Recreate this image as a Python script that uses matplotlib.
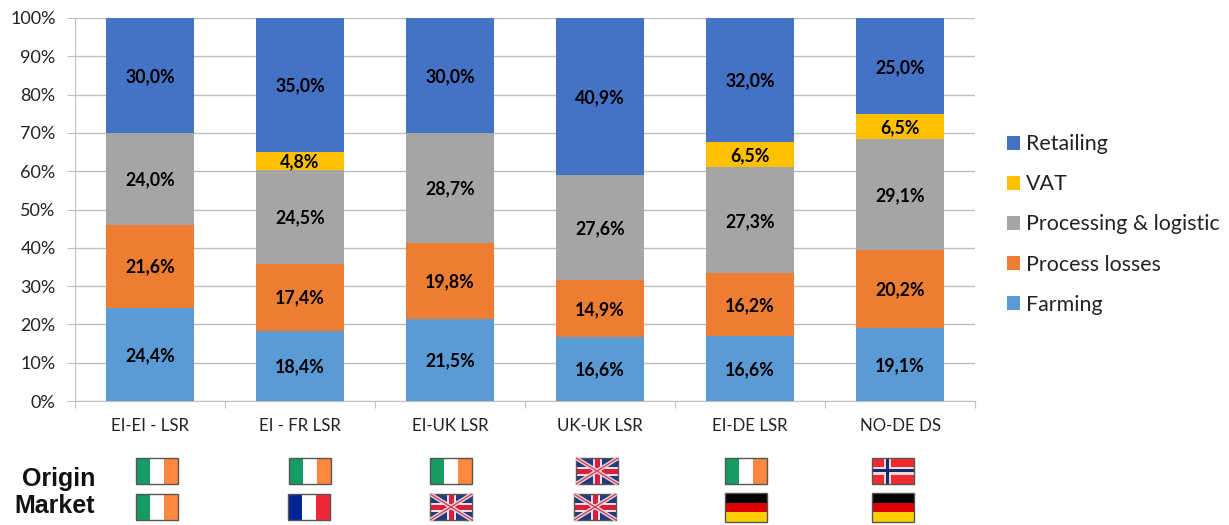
import matplotlib
matplotlib.use("Agg")
import matplotlib.pyplot as plt
from matplotlib.patches import Rectangle
import numpy as np

plt.rcParams['font.family'] = ['Lato', 'DejaVu Sans']

routes = ["EI-EI - LSR", "EI - FR LSR", "EI-UK LSR", "UK-UK LSR", "EI-DE LSR", "NO-DE DS"]
# bar heights as drawn (the EI-DE bar is drawn a bit off its printed numbers)
farming = [24.4, 18.4, 21.5, 16.6, 16.9, 19.1]
process_losses = [21.6, 17.4, 19.8, 14.9, 16.4, 20.2]
processing = [24.0, 24.5, 28.7, 27.6, 27.7, 29.1]
vat = [0, 4.8, 0, 0, 6.5, 6.5]
retailing = [30.0, 35.0, 30.0, 40.9, 32.5, 25.0]
# printed labels
farming_lab = ["24,4%", "18,4%", "21,5%", "16,6%", "16,6%", "19,1%"]
losses_lab = ["21,6%", "17,4%", "19,8%", "14,9%", "16,2%", "20,2%"]
processing_lab = ["24,0%", "24,5%", "28,7%", "27,6%", "27,3%", "29,1%"]
vat_lab = ["", "4,8%", "", "", "6,5%", "6,5%"]
retailing_lab = ["30,0%", "35,0%", "30,0%", "40,9%", "32,0%", "25,0%"]
origin = ["IE", "IE", "IE", "UK", "IE", "NO"]
market = ["IE", "FR", "UK", "UK", "DE", "DE"]

series = [("Farming", farming, farming_lab, "#5b9bd5"),
          ("Process losses", process_losses, losses_lab, "#ed7d31"),
          ("Processing & logistic", processing, processing_lab, "#a5a5a5"),
          ("VAT", vat, vat_lab, "#ffc000"),
          ("Retailing", retailing, retailing_lab, "#4472c4")]

W, H = 1229, 525
fig = plt.figure(figsize=(W / 100, H / 100), dpi=100)
ax = fig.add_axes([75 / W, 1 - 401 / H, 900 / W, 383 / H])

x = np.arange(len(routes))
bottom = np.zeros(len(routes))
for name, vals, labs, col in series:
    vals = np.array(vals)
    ax.bar(x, vals, 0.59, bottom=bottom, color=col, label=name, zorder=2)
    for xi, b, v, lab in zip(x, bottom, vals, labs):
        if lab:
            ax.annotate(lab, (xi, b + v / 2), xytext=(0, -1), textcoords="offset pixels",
                        ha="center", va="center", fontsize=12.8, fontweight="bold", color="black")
    bottom += vals

ax.set_xlim(-0.5, 5.5)
ax.set_ylim(0, 100)
ax.set_yticks(range(0, 101, 10))
ax.set_yticklabels(["%d%%" % v for v in range(0, 101, 10)], fontsize=13, color="#222222")
ax.set_xticks(np.arange(-0.5, 6))
ax.set_xticklabels([])
for xi, r in zip(x, routes):
    ax.text(xi, -6.5, r, ha="center", va="center", fontsize=12.2, color="#222222")
ax.grid(axis="y", color="#bfbfbf", lw=1, zorder=0)
ax.set_axisbelow(True)
ax.tick_params(axis="both", color="#bfbfbf", length=5, pad=8)
ax.tick_params(axis="y", length=6)
for s in ["top", "right"]:
    ax.spines[s].set_visible(False)
for s in ["left", "bottom"]:
    ax.spines[s].set_color("#bfbfbf")

handles, labels = ax.get_legend_handles_labels()
fig.legend(handles[::-1], labels[::-1], loc="center left", bbox_to_anchor=(1007 / W, 1 - 224.5 / H),
           frameon=False, fontsize=15.4, handlelength=0.6, handleheight=0.6,
           handletextpad=0.3, labelspacing=0.94, borderaxespad=0, borderpad=0,
           labelcolor="#222222")

# flags are drawn in pixel coordinates of the figure
fax = fig.add_axes([0, 0, 1, 1])
fax.set_xlim(0, W)
fax.set_ylim(H, 0)
fax.axis("off")
fax.patch.set_alpha(0)

def flag(code, x0, y0, w=42, h=26):
    if code == "IE":
        for i, c in enumerate(["#169b62", "#ffffff", "#ff883e"]):
            fax.add_patch(Rectangle((x0 + i * w / 3, y0), w / 3, h, color=c, lw=0))
    elif code == "FR":
        for i, c in enumerate(["#002395", "#ffffff", "#ed2939"]):
            fax.add_patch(Rectangle((x0 + i * w / 3, y0), w / 3, h, color=c, lw=0))
    elif code == "DE":
        for i, c in enumerate(["#000000", "#dd0000", "#ffce00"]):
            fax.add_patch(Rectangle((x0, y0 + i * h / 3), w, h / 3, color=c, lw=0))
    elif code == "NO":
        fax.add_patch(Rectangle((x0, y0), w, h, color="#ef2b2d", lw=0))
        fax.add_patch(Rectangle((x0 + 11.5, y0), 7.5, h, color="#f3d9dc", lw=0))
        fax.add_patch(Rectangle((x0, y0 + 9), w, 7.5, color="#f3d9dc", lw=0))
        fax.add_patch(Rectangle((x0 + 14, y0), 2.8, h, color="#102c6e", lw=0))
        fax.add_patch(Rectangle((x0, y0 + 11.4), w, 2.8, color="#102c6e", lw=0))
    elif code == "UK":
        fax.add_patch(Rectangle((x0, y0), w, h, color="#1f3a7d", lw=0))
        x1, y1 = x0 + w, y0 + h
        fax.plot([x0, x1], [y0, y1], color="#e6d5dc", lw=3.0, solid_capstyle="butt")
        fax.plot([x0, x1], [y1, y0], color="#e6d5dc", lw=3.0, solid_capstyle="butt")
        fax.plot([x0, x1], [y0, y1], color="#d0455c", lw=1.0, solid_capstyle="butt")
        fax.plot([x0, x1], [y1, y0], color="#d0455c", lw=1.0, solid_capstyle="butt")
        fax.add_patch(Rectangle((x0 + w / 2 - 4.5, y0), 9, h, color="#f2dfe3", lw=0))
        fax.add_patch(Rectangle((x0, y0 + h / 2 - 4.5), w, 9, color="#f2dfe3", lw=0))
        fax.add_patch(Rectangle((x0 + w / 2 - 2.5, y0), 5, h, color="#d8203c", lw=0))
        fax.add_patch(Rectangle((x0, y0 + h / 2 - 2.5), w, 5, color="#d8203c", lw=0))
    fax.add_patch(Rectangle((x0, y0), w, h, fill=False, ec="#555555", lw=1.0))

origin_x = [136, 289, 430, 576, 725, 872]
market_x = [136, 288, 430, 574, 725, 872]
for fx, o in zip(origin_x, origin):
    flag(o, fx, 458)
for fx, m in zip(market_x, market):
    if m == "DE":
        flag(m, fx, 493, h=29)
    else:
        flag(m, fx, 494)

fax.text(95, 479, "Origin", ha="right", va="center", fontsize=18, fontweight="bold",
         family=["Liberation Sans"], color="#111111")
fax.text(95, 506, "Market", ha="right", va="center", fontsize=18, fontweight="bold",
         family=["Liberation Sans"], color="#111111")

fig.savefig("out.png", dpi=100)
